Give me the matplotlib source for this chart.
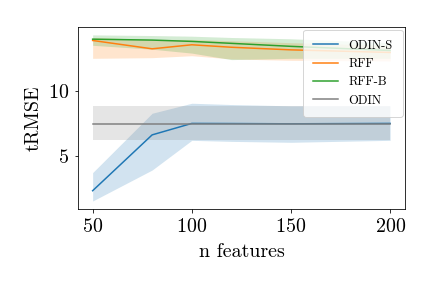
import matplotlib
matplotlib.use("Agg")
import matplotlib.pyplot as plt
import numpy as np

plt.rcParams['font.family'] = 'serif'
plt.rcParams['font.serif'] = ['cmr10']
plt.rcParams['mathtext.fontset'] = 'cm'
plt.rcParams['axes.unicode_minus'] = False
plt.rcParams['axes.formatter.use_mathtext'] = True

n_features = [50, 80, 100, 120, 150, 200]

# ODIN-S
odins_mean = [2.33, 6.62, 7.5, 7.49, 7.47, 7.5]
odins_lo = [1.54, 3.92, 6.2, 6.12, 6.05, 6.2]
odins_hi = [3.72, 8.28, 9.05, 8.95, 8.85, 8.85]

# RFF
rff_mean = [13.87, 13.23, 13.54, 13.35, 13.15, 12.95]
rff_lo = [12.5, 12.55, 12.7, 12.45, 12.35, 12.3]
rff_hi = [14.1, 13.95, 13.95, 13.85, 13.7, 13.5]

# RFF-B
rffb_mean = [13.97, 13.9, 13.8, 13.65, 13.42, 13.1]
rffb_lo = [13.5, 13.2, 12.9, 12.4, 12.5, 12.5]
rffb_hi = [14.3, 14.25, 14.2, 14.1, 14.0, 13.7]

# ODIN (constant baseline)
odin_mean = 7.47
odin_lo = 6.23
odin_hi = 8.8

fig = plt.figure(figsize=(6, 4), dpi=72)
ax = fig.add_axes([0.18, 0.274, 0.7575, 0.632])

ax.plot(n_features, odins_mean, color='tab:blue', label='ODIN-S')
ax.fill_between(n_features, odins_lo, odins_hi, color='tab:blue', alpha=0.2, lw=0)

ax.plot(n_features, rff_mean, color='tab:orange', label='RFF')
ax.fill_between(n_features, rff_lo, rff_hi, color='tab:orange', alpha=0.2, lw=0)

ax.plot(n_features, rffb_mean, color='tab:green', label='RFF-B')
ax.fill_between(n_features, rffb_lo, rffb_hi, color='tab:green', alpha=0.2, lw=0)

xs = [n_features[0], n_features[-1]]
ax.plot(xs, [odin_mean]*2, color='tab:gray', label='ODIN')
ax.fill_between(xs, [odin_lo]*2, [odin_hi]*2, color='tab:gray', alpha=0.2, lw=0)

ax.set_ylim(0.92, 14.9)
ax.set_yticks([5, 10])
ax.set_xticks([50, 100, 150, 200])
ax.tick_params(labelsize=20, pad=5)
ax.set_xlabel('n features', fontsize=20, labelpad=7)
ax.set_ylabel('tRMSE', fontsize=20, labelpad=5)
ax.legend(loc='upper right', fontsize=12.5, borderaxespad=0.2, borderpad=0.8)

fig.savefig('out.png', dpi=72)
